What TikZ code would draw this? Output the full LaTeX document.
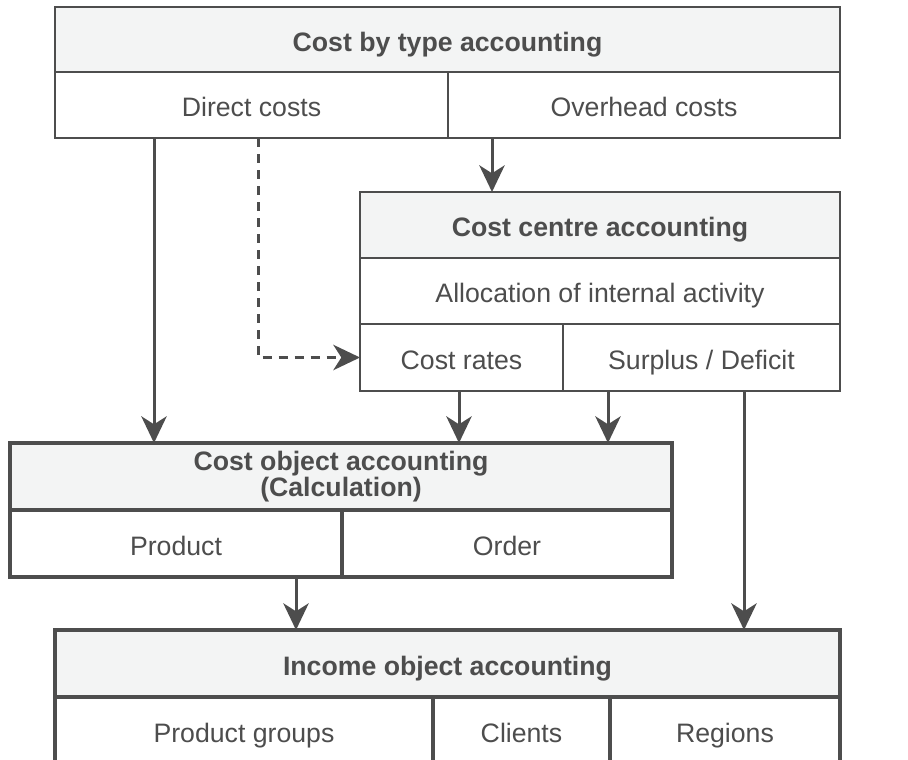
\documentclass[tikz,border=0pt]{standalone}
\usepackage{fontspec}
\setmainfont{Liberation Sans}
\usetikzlibrary{arrows.meta}
\definecolor{lc}{HTML}{4D4D4D}
\definecolor{tc}{HTML}{4D4D4D}
\definecolor{hf}{HTML}{F3F4F4}
\def\pxu{0.75pt}
\begin{document}
\begin{tikzpicture}[x=0.75pt,y=-0.75pt,
  cell/.style={draw=lc, rectangle, inner sep=0pt, outer sep=0pt, anchor=north west,
    text=tc, font=\fontsize{20pt}{18pt}\selectfont, align=center},
  oneline/.style={text height=19.5pt, text depth=2pt},
  thinbox/.style={line width=1.5pt},
  thickbox/.style={line width=3pt},
  head/.style={fill=hf, font=\fontsize{20pt}{18pt}\selectfont\bfseries},
  arr/.style={draw=lc, line width=2.25pt, -{Stealth[length=20pt,width=19pt,inset=6pt]}},
  dasharr/.style={arr, dash pattern=on 7pt off 5pt}
]
\useasboundingbox (0,0) rectangle (908,760);
\clip (0,0) rectangle (908,760);
\fill[white] (0,0) rectangle (908,760);

% Cost by type accounting
\node[cell, oneline, thinbox, head, minimum width=785*\pxu, minimum height=65*\pxu] (tHead) at (55,7) {Cost by type accounting};
\node[cell, oneline, thinbox, minimum width=393*\pxu, minimum height=66*\pxu] (tDirect) at (55,72) {Direct costs};
\node[cell, oneline, thinbox, minimum width=392*\pxu, minimum height=66*\pxu] (tOver) at (448,72) {Overhead costs};

% Cost centre accounting
\node[cell, oneline, thinbox, head, minimum width=480*\pxu, minimum height=66*\pxu] (cHead) at (360,192) {Cost centre accounting};
\node[cell, oneline, thinbox, minimum width=480*\pxu, minimum height=66*\pxu] (cAlloc) at (360,258) {Allocation of internal activity};
\node[cell, oneline, thinbox, minimum width=203*\pxu, minimum height=67*\pxu] (cRates) at (360,324) {Cost rates};
\node[cell, oneline, thinbox, minimum width=277*\pxu, minimum height=67*\pxu] (cSurp) at (563,324) {Surplus / Deficit};

% Cost object accounting
\node[cell, thickbox, head, minimum width=662*\pxu, minimum height=67*\pxu] (oHead) at (10,443) {Cost object accounting\\(Calculation)};
\node[cell, oneline, thickbox, minimum width=332*\pxu, minimum height=67*\pxu] (oProd) at (10,510) {Product};
\node[cell, oneline, thickbox, minimum width=330*\pxu, minimum height=67*\pxu] (oOrder) at (342,510) {Order};

% Income object accounting
\node[cell, oneline, thickbox, head, minimum width=785*\pxu, minimum height=67*\pxu] (iHead) at (55,630) {Income object accounting};
\node[cell, oneline, thickbox, minimum width=378*\pxu, minimum height=67*\pxu] (iPG) at (55,697) {Product groups};
\node[cell, oneline, thickbox, minimum width=177*\pxu, minimum height=67*\pxu] (iCl) at (433,697) {Clients};
\node[cell, oneline, thickbox, minimum width=230*\pxu, minimum height=67*\pxu] (iReg) at (610,697) {Regions};

% Connectors
\draw[arr] ([xshift=99*\pxu]tDirect.south west) -- ([xshift=144*\pxu]oHead.north west);
\draw[dasharr] ([xshift=203*\pxu]tDirect.south west) |- (cRates.west);
\draw[arr] ([xshift=44*\pxu]tOver.south west) -- ([xshift=132*\pxu]cHead.north west);
\draw[arr] ([xshift=99*\pxu]cRates.south west) -- ([xshift=449*\pxu]oHead.north west);
\draw[arr] ([xshift=45*\pxu]cSurp.south west) -- ([xshift=598*\pxu]oHead.north west);
\draw[arr] ([xshift=181*\pxu]cSurp.south west) -- ([xshift=689*\pxu]iHead.north west);
\draw[arr] ([xshift=286*\pxu]oProd.south west) -- ([xshift=241*\pxu]iHead.north west);
\end{tikzpicture}
\end{document}
